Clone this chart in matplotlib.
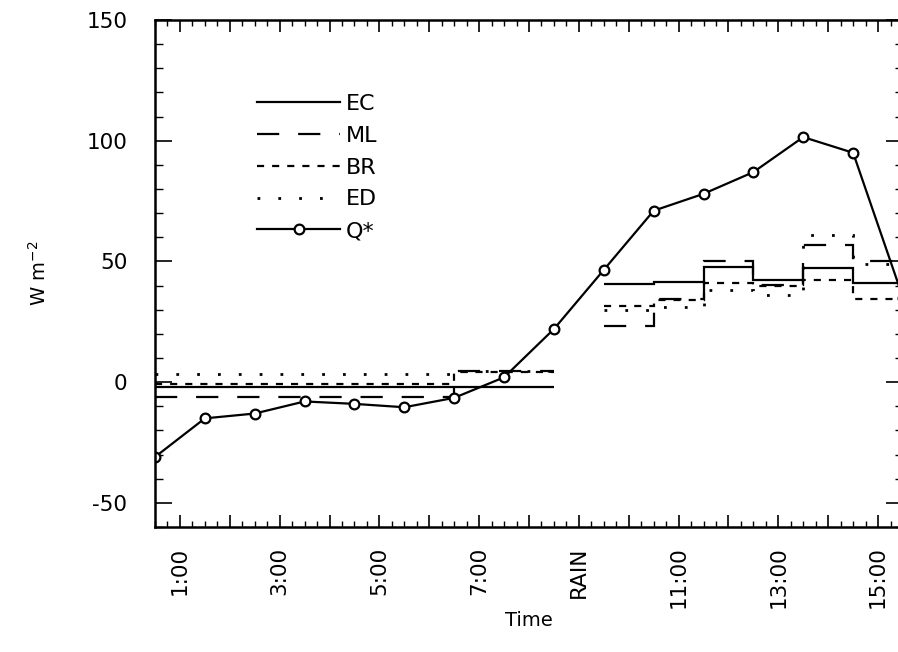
import matplotlib
matplotlib.use("Agg")
import matplotlib.pyplot as plt
import numpy as np
from matplotlib.ticker import MultipleLocator, FuncFormatter

plt.rcParams['font.family'] = ['DejaVu Sans']

# ---- data ----
night_edges = [0.5, 1.5, 2.5, 3.5, 4.5, 5.5, 6.5, 7.5, 8.5]
day_edges = [9.5, 10.5, 11.5, 12.5, 13.5, 14.5, 15.5]

ec_night = [-2, -2, -2, -2, -2, -2, -2, -2]
ml_night = [-6, -6, -6, -6, -6, -6, 4.5, 4.5]
br_night = [-0.7, -0.7, -0.7, -0.7, -0.7, -0.7, 4, 4]
ed_night = [3.3, 3.3, 3.3, 3.3, 3.3, 3.3, 4.6, 4.6]

ec_day = [40.5, 41.5, 47.5, 42.3, 47.4, 41]
ml_day = [23.3, 34.3, 50.3, 40.3, 57, 50]
br_day = [31.5, 34, 41, 40, 42.5, 34.3]
ed_day = [30, 31, 38, 36, 61, 49]

q_hours = [0.5, 1.5, 2.5, 3.5, 4.5, 5.5, 6.5, 7.5, 8.5, 9.5, 10.5, 11.5,
           12.5, 13.5, 14.5, 15.5]
q_star = [-31, -15, -13, -8, -9, -10.4, -6.5, 2, 22, 46.5, 71, 78, 87,
          101.5, 95, 35]

tick_hours = [1, 3, 5, 7, 9, 11, 13, 15]
tick_labels = ['1:00', '3:00', '5:00', '7:00', 'RAIN', '11:00', '13:00', '15:00']

# ---- figure ----
W, H = 898, 652
fig = plt.figure(figsize=(W / 100, H / 100), dpi=100)
ax = fig.add_axes([155 / W, 125 / H, (903 - 155) / W, (527 - 20) / H])

lw = 1.6
styles = {
    'EC': dict(linestyle='-', lw=lw),
    'ML': dict(linestyle=(0, (10, 8.5)), lw=lw),
    'BR': dict(linestyle=(0, (3.2, 3.6)), lw=lw),
    'ED': dict(linestyle=(0, (1.0, 6.5)), lw=2.0),
}
series = [('EC', ec_night, ec_day), ('ML', ml_night, ml_day),
          ('BR', br_night, br_day), ('ED', ed_night, ed_day)]
handles = []
for name, vn, vd in series:
    st = styles[name]
    ax.stairs(vn, night_edges, baseline=None, color='black', **st)
    ax.stairs(vd, day_edges, baseline=None, color='black', **st)
    h, = ax.plot([], [], color='black', label=name, **st)
    handles.append(h)

hq, = ax.plot(q_hours, q_star, color='black', lw=lw, marker='o',
              markersize=7, markerfacecolor='white', markeredgewidth=1.6,
              markeredgecolor='black', label='Q*')
handles.append(hq)

ax.set_xlim(0.5, 15.5)
ax.set_ylim(-60, 150)

ax.xaxis.set_major_locator(MultipleLocator(1))
ax.xaxis.set_minor_locator(MultipleLocator(0.25))
ax.yaxis.set_minor_locator(MultipleLocator(10))


def fmt(x, pos):
    for hr, lab in zip(tick_hours, tick_labels):
        if abs(x - hr) < 1e-6:
            return lab
    return ''


ax.xaxis.set_major_formatter(FuncFormatter(fmt))
ax.set_yticks([-50, 0, 50, 100, 150])
ax.set_yticklabels(['-50', '0', '50', '100', '150'])

ax.tick_params(axis='x', which='major', direction='in', length=8.5, width=1.2,
               top=True, bottom=True, labelsize=15.5, pad=14, labelrotation=90)
ax.tick_params(axis='x', which='minor', direction='in', length=4.5, width=1.0,
               top=True, bottom=True)
ax.tick_params(axis='y', which='major', direction='in', length=12, width=1.2,
               left=True, right=True, labelsize=15.5, pad=20)
ax.tick_params(axis='y', which='minor', direction='in', length=6, width=1.0,
               left=True, right=True)
for s in ax.spines.values():
    s.set_linewidth(1.8)

ax.set_xlabel('Time', fontsize=14, labelpad=2)
ax.set_ylabel('W m$^{-2}$', fontsize=14, labelpad=26)

leg = ax.legend(handles=handles, loc='upper left',
                bbox_to_anchor=((257 - 155) / 748, 1 - (94 - 20) / 507),
                frameon=False, borderpad=0, borderaxespad=0,
                handlelength=3.74, handletextpad=0.25, labelspacing=0.53,
                fontsize=16)

fig.savefig('out.png', dpi=100)
